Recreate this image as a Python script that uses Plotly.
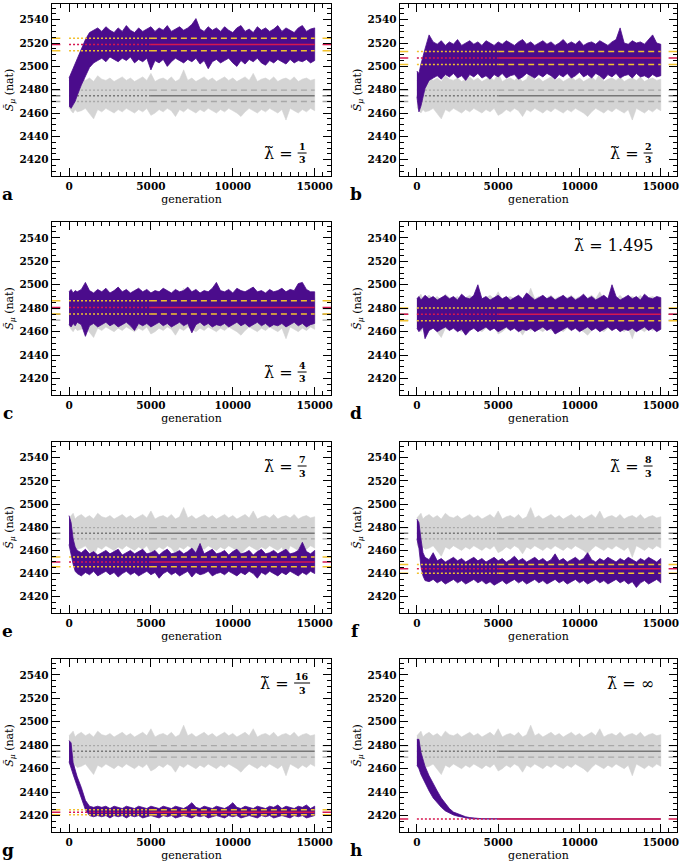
import plotly.graph_objects as go

# ---------------- data ----------------
GEN = [0, 125, 250, 375, 500] + list(range(750, 15001, 250))

X_TICKS = [0, 5000, 10000, 15000]
Y_TICKS = [2420, 2440, 2460, 2480, 2500, 2520, 2540]

PANEL_LETTERS = ["a", "b", "c", "d", "e", "f", "g", "h"]
LAMBDA_LABELS = ["1/3", "2/3", "4/3", "1.495", "7/3", "8/3", "16/3", "∞"]
LABEL_POS = ["bottom", "bottom", "bottom", "top", "top", "top", "top", "top"]

MEAN = [2518.8, 2507.2, 2480.7, 2474.8, 2450.0, 2444.1, 2422.8, 2417.0]
SD = [5.3, 5.5, 5.6, 5.4, 4.2, 3.8, 2.1, 0.0]
GRAY_MEAN = 2474.8
GRAY_SD = 4.9
AVG_START = 5000

A_UP = [2490, 2494, 2498, 2503, 2507, 2515, 2523, 2529, 2531, 2533,
        2530, 2534, 2531, 2529, 2533, 2530, 2535, 2531, 2529, 2533,
        2530, 2532, 2534, 2530, 2533, 2531, 2535, 2530, 2532, 2534,
        2531, 2533, 2536, 2541, 2532, 2530, 2534, 2531, 2533, 2530,
        2534, 2531, 2529, 2533, 2535, 2530, 2532, 2529, 2534, 2531,
        2533, 2530, 2532, 2535, 2530, 2533, 2531, 2529, 2533, 2535,
        2530, 2532, 2533]
A_LO = [2466, 2464, 2467, 2470, 2475, 2484, 2492, 2499, 2503, 2505,
        2507, 2504, 2508, 2506, 2504, 2507, 2505, 2508, 2503, 2506,
        2504, 2507, 2497, 2505, 2503, 2506, 2500, 2504, 2507, 2505,
        2503, 2506, 2504, 2507, 2502, 2505, 2498, 2504, 2506, 2503,
        2505, 2507, 2503, 2500, 2505, 2502, 2506, 2504, 2507, 2503,
        2501, 2505, 2503, 2506, 2504, 2502, 2506, 2503, 2505, 2504,
        2506, 2503, 2505]

B_UP = [2496, 2494, 2502, 2509, 2515, 2527, 2521, 2519, 2522, 2518,
        2521, 2519, 2523, 2518, 2520, 2522, 2519, 2521, 2518, 2522,
        2520, 2518, 2521, 2519, 2522, 2520, 2518, 2521, 2523, 2519,
        2521, 2518, 2520, 2522, 2519, 2521, 2518, 2520, 2523, 2519,
        2521, 2519, 2522, 2518, 2520, 2521, 2519, 2522, 2520, 2518,
        2521, 2523, 2533, 2520, 2519, 2522, 2520, 2521, 2519, 2523,
        2527, 2520, 2519]
B_LO = [2474, 2461, 2466, 2473, 2481, 2488, 2490, 2492, 2489, 2493,
        2491, 2494, 2490, 2492, 2488, 2493, 2491, 2494, 2490, 2492,
        2489, 2493, 2491, 2494, 2490, 2492, 2493, 2489, 2491, 2494,
        2492, 2490, 2493, 2491, 2494, 2492, 2489, 2493, 2491, 2494,
        2490, 2492, 2495, 2491, 2493, 2490, 2494, 2492, 2489, 2493,
        2491, 2494, 2490, 2492, 2493, 2490, 2494, 2491, 2492, 2490,
        2493, 2491, 2492]

C_UP = [2494, 2496, 2493, 2495, 2494, 2496, 2502, 2495, 2493, 2496,
        2494, 2497, 2493, 2495, 2498, 2494, 2496, 2493, 2495, 2497,
        2494, 2496, 2493, 2495, 2494, 2497, 2495, 2493, 2496, 2494,
        2495, 2498, 2494, 2496, 2493, 2495, 2494, 2497, 2502, 2495,
        2494, 2496, 2493, 2497, 2495, 2494, 2496, 2498, 2494, 2495,
        2493, 2496, 2494, 2495, 2497, 2494, 2496, 2495, 2501, 2502,
        2496, 2494, 2494]
C_LO = [2466, 2464, 2467, 2465, 2468, 2466, 2456, 2465, 2467, 2464,
        2466, 2468, 2465, 2467, 2464, 2466, 2468, 2465, 2461, 2467,
        2465, 2467, 2464, 2466, 2468, 2465, 2467, 2464, 2466, 2468,
        2465, 2467, 2459, 2466, 2468, 2465, 2467, 2464, 2466, 2465,
        2467, 2464, 2466, 2468, 2465, 2467, 2464, 2466, 2468, 2465,
        2467, 2464, 2466, 2465, 2467, 2464, 2466, 2468, 2465, 2467,
        2464, 2466, 2467]

D_UP = [2488, 2490, 2487, 2489, 2491, 2488, 2490, 2487, 2489, 2491,
        2488, 2490, 2487, 2492, 2489, 2488, 2491, 2500, 2488, 2490,
        2487, 2489, 2491, 2488, 2490, 2487, 2489, 2491, 2488, 2493,
        2490, 2487, 2489, 2491, 2488, 2490, 2487, 2489, 2491, 2488,
        2490, 2487, 2489, 2492, 2488, 2490, 2487, 2489, 2491, 2488,
        2500, 2490, 2487, 2489, 2491, 2488, 2490, 2487, 2492, 2489,
        2488, 2490, 2489]
D_LO = [2463, 2460, 2462, 2464, 2454, 2461, 2463, 2460, 2462, 2464,
        2461, 2463, 2460, 2462, 2457, 2461, 2463, 2460, 2462, 2464,
        2461, 2463, 2460, 2462, 2464, 2461, 2463, 2460, 2462, 2461,
        2463, 2460, 2462, 2464, 2461, 2463, 2458, 2460, 2462, 2464,
        2461, 2463, 2460, 2462, 2464, 2461, 2463, 2460, 2462, 2464,
        2461, 2463, 2460, 2462, 2461, 2463, 2460, 2462, 2464, 2461,
        2463, 2460, 2462]

E_UP = [2490, 2484, 2470, 2463, 2460, 2458, 2461, 2457, 2459, 2456,
        2458, 2460, 2457, 2459, 2461, 2456, 2458, 2460, 2457, 2459,
        2461, 2457, 2458, 2460, 2456, 2459, 2461, 2457, 2458, 2460,
        2457, 2459, 2462, 2458, 2466, 2457, 2459, 2461, 2457, 2458,
        2460, 2456, 2459, 2461, 2457, 2458, 2460, 2456, 2459, 2461,
        2457, 2458, 2460, 2457, 2459, 2461, 2457, 2458, 2460, 2467,
        2459, 2457, 2460]
E_LO = [2465, 2458, 2448, 2442, 2440, 2438, 2441, 2439, 2442, 2438,
        2440, 2442, 2439, 2441, 2437, 2440, 2442, 2439, 2441, 2438,
        2440, 2442, 2439, 2441, 2436, 2440, 2442, 2439, 2441, 2438,
        2440, 2442, 2437, 2441, 2439, 2440, 2442, 2438, 2440, 2441,
        2439, 2442, 2440, 2438, 2441, 2439, 2442, 2440, 2436, 2441,
        2439, 2442, 2440, 2438, 2441, 2439, 2442, 2440, 2438, 2441,
        2439, 2442, 2440]

F_UP = [2487, 2484, 2470, 2458, 2454, 2452, 2458, 2451, 2453, 2450,
        2452, 2454, 2451, 2453, 2450, 2452, 2454, 2451, 2453, 2450,
        2452, 2454, 2451, 2453, 2450, 2452, 2455, 2451, 2453, 2450,
        2452, 2454, 2451, 2453, 2450, 2452, 2457, 2451, 2453, 2450,
        2452, 2454, 2451, 2453, 2458, 2452, 2450, 2453, 2451, 2454,
        2452, 2450, 2453, 2451, 2454, 2452, 2450, 2453, 2451, 2454,
        2452, 2450, 2453]
F_LO = [2470, 2462, 2446, 2438, 2434, 2433, 2435, 2432, 2434, 2431,
        2433, 2435, 2432, 2434, 2431, 2433, 2435, 2432, 2434, 2431,
        2433, 2430, 2432, 2434, 2431, 2433, 2435, 2432, 2434, 2431,
        2433, 2435, 2432, 2434, 2431, 2433, 2435, 2432, 2434, 2431,
        2433, 2435, 2432, 2434, 2431, 2433, 2435, 2432, 2434, 2431,
        2433, 2435, 2432, 2434, 2431, 2433, 2428, 2432, 2434, 2431,
        2433, 2435, 2432]

G_UP = [2484, 2482, 2465, 2459, 2453, 2444, 2433, 2428, 2427, 2428,
        2427, 2428, 2426, 2428, 2427, 2426, 2428, 2427, 2426, 2428,
        2427, 2426, 2428, 2427, 2426, 2428, 2427, 2426, 2428, 2427,
        2426, 2428, 2431, 2427, 2426, 2428, 2427, 2426, 2428, 2427,
        2426, 2428, 2431, 2427, 2426, 2428, 2427, 2426, 2428, 2427,
        2426, 2428, 2427, 2429, 2426, 2428, 2427, 2426, 2428, 2427,
        2429, 2426, 2428]
G_LO = [2466, 2460, 2455, 2450, 2444, 2435, 2425, 2420, 2419, 2420,
        2419, 2420, 2418, 2420, 2419, 2420, 2418, 2420, 2419, 2420,
        2418, 2419, 2420, 2419, 2418, 2420, 2419, 2420, 2418, 2419,
        2420, 2419, 2418, 2420, 2419, 2420, 2418, 2419, 2420, 2419,
        2418, 2420, 2419, 2420, 2418, 2419, 2420, 2419, 2418, 2420,
        2419, 2420, 2418, 2419, 2420, 2419, 2418, 2420, 2419, 2420,
        2418, 2419, 2420]

H_UP = [2485, 2485, 2474, 2468, 2462, 2454, 2447, 2441, 2435, 2430,
        2426, 2423, 2421.5, 2420, 2419, 2418.3, 2417.8, 2417.5, 2417.3, 2417.2,
        2417.2, 2417.1, 2417.1, 2417.1, 2417.1, 2417.1, 2417.1, 2417.1, 2417.1, 2417.1,
        2417.1, 2417.1, 2417.1, 2417.1, 2417.1, 2417.1, 2417.1, 2417.1, 2417.1, 2417.1,
        2417.1, 2417.1, 2417.1, 2417.1, 2417.1, 2417.1, 2417.1, 2417.1, 2417.1, 2417.1,
        2417.1, 2417.1, 2417.1, 2417.1, 2417.1, 2417.1, 2417.1, 2417.1, 2417.1, 2417.1,
        2417.1, 2417.1, 2417.1]
H_LO = [2463, 2460, 2455, 2452, 2448, 2441, 2435, 2431, 2427, 2424,
        2422, 2420.5, 2419.5, 2418.5, 2418, 2417.5, 2417.2, 2417.0, 2416.9, 2416.8,
        2416.8, 2416.8, 2416.8, 2416.8, 2416.8, 2416.8, 2416.8, 2416.8, 2416.8, 2416.8,
        2416.8, 2416.8, 2416.8, 2416.8, 2416.8, 2416.8, 2416.8, 2416.8, 2416.8, 2416.8,
        2416.8, 2416.8, 2416.8, 2416.8, 2416.8, 2416.8, 2416.8, 2416.8, 2416.8, 2416.8,
        2416.8, 2416.8, 2416.8, 2416.8, 2416.8, 2416.8, 2416.8, 2416.8, 2416.8, 2416.8,
        2416.8, 2416.8, 2416.8]

GRAY_UP = [2488, 2490, 2492, 2487, 2489, 2491, 2488, 2490, 2487, 2492,
           2489, 2488, 2490, 2487, 2489, 2491, 2488, 2490, 2487, 2489,
           2491, 2488, 2494, 2487, 2489, 2490, 2488, 2491, 2487, 2489,
           2497, 2488, 2490, 2487, 2489, 2491, 2488, 2490, 2487, 2489,
           2491, 2488, 2490, 2487, 2489, 2491, 2488, 2494, 2487, 2489,
           2490, 2488, 2491, 2487, 2489, 2490, 2488, 2491, 2487, 2489,
           2490, 2488, 2489]
GRAY_LO = [2465, 2462, 2460, 2463, 2461, 2462, 2464, 2460, 2455, 2463,
           2461, 2464, 2462, 2460, 2463, 2461, 2464, 2462, 2460, 2463,
           2461, 2464, 2458, 2460, 2463, 2461, 2464, 2462, 2457, 2463,
           2461, 2464, 2462, 2460, 2463, 2461, 2464, 2462, 2460, 2463,
           2461, 2464, 2462, 2460, 2457, 2461, 2464, 2462, 2460, 2463,
           2461, 2464, 2462, 2460, 2463, 2454, 2464, 2462, 2460, 2463,
           2461, 2464, 2462]

PURPLE_UP = [A_UP, B_UP, C_UP, D_UP, E_UP, F_UP, G_UP, H_UP]
PURPLE_LO = [A_LO, B_LO, C_LO, D_LO, E_LO, F_LO, G_LO, H_LO]

# ---------------- styling / layout ----------------
W, H = 685, 863
COLS = [(52, 332), (401, 679)]
ROWS = [(4, 176), (222, 395), (442, 613), (659, 832)]
XR = [-1050, 16000]
YR = [2406, 2553.5]

PURPLE = "#4b0c8c"
RED = "#d6174f"
YELLOW = "#f2c12e"
GBAND = "#d4d4d4"
GMEAN = "#777777"
GSD = "#a8a8a8"
SERIF = "DejaVu Serif"

MARK = (XR[1] - XR[0]) * 8.5 / 280.0

fig = go.Figure()
layout = dict(width=W, height=H, margin=dict(l=0, r=0, t=0, b=0),
              paper_bgcolor="white", plot_bgcolor="white", showlegend=False)
annotations = []
shapes = []


def px_x(px):
    return px / W


def px_y(py):
    return 1 - py / H


def add_level(xa, ya, y, color, width, late_dash):
    fig.add_trace(go.Scatter(x=[GEN[0], AVG_START], y=[y, y], xaxis=xa, yaxis=ya,
                             mode="lines", hoverinfo="skip",
                             line=dict(color=color, width=width, dash="2px,2px")))
    fig.add_trace(go.Scatter(x=[AVG_START, GEN[-1]], y=[y, y], xaxis=xa, yaxis=ya,
                             mode="lines", hoverinfo="skip",
                             line=dict(color=color, width=width, dash=late_dash)))
    fig.add_trace(go.Scatter(x=[XR[0], XR[0] + MARK, None, XR[1] - MARK, XR[1]],
                             y=[y, y, None, y, y], xaxis=xa, yaxis=ya,
                             mode="lines", hoverinfo="skip",
                             line=dict(color=color, width=width)))


for i in range(8):
    r, c = divmod(i, 2)
    sfx = "" if i == 0 else str(i + 1)
    xa, ya = "x" + sfx, "y" + sfx
    x0, x1 = COLS[c]
    y0, y1 = ROWS[r]

    common = dict(showline=True, linecolor="black", linewidth=1.2, mirror="allticks",
                  ticks="inside", tickcolor="black", ticklen=8, tickwidth=1,
                  showgrid=False, zeroline=False,
                  tickfont=dict(family=SERIF, size=10.5, color="black"))
    layout["xaxis" + sfx] = dict(
        common, domain=[px_x(x0), px_x(x1)], anchor=ya, range=XR,
        tickmode="array", tickvals=X_TICKS,
        ticktext=["<b>%d</b>" % v for v in X_TICKS],
        minor=dict(ticks="inside", ticklen=4, dtick=500, tick0=0, tickcolor="black"),
        title=dict(text="generation", standoff=4,
                   font=dict(family=SERIF, size=11, color="black")))
    layout["yaxis" + sfx] = dict(
        common, domain=[px_y(y1), px_y(y0)], anchor=xa, range=YR,
        tickmode="array", tickvals=Y_TICKS,
        ticktext=["<b>%d</b>" % v for v in Y_TICKS],
        minor=dict(ticks="inside", ticklen=4, dtick=5, tick0=2420, tickcolor="black"),
        title=dict(text="<i>S\u0303</i><sub><i>\u03bc</i></sub> (nat)", standoff=3,
                   font=dict(family=SERIF, size=11, color="black")))

    # gray reference band
    fig.add_trace(go.Scatter(x=GEN + GEN[::-1], y=GRAY_UP + GRAY_LO[::-1],
                             xaxis=xa, yaxis=ya, mode="lines", fill="toself",
                             fillcolor=GBAND, line=dict(color=GBAND, width=0.6),
                             hoverinfo="skip"))
    add_level(xa, ya, GRAY_MEAN + GRAY_SD, GSD, 1.3, "6px,4px")
    add_level(xa, ya, GRAY_MEAN - GRAY_SD, GSD, 1.3, "6px,4px")
    add_level(xa, ya, GRAY_MEAN, GMEAN, 1.5, "solid")

    # purple series band
    up, lo = PURPLE_UP[i], PURPLE_LO[i]
    fig.add_trace(go.Scatter(x=GEN + GEN[::-1], y=up + lo[::-1],
                             xaxis=xa, yaxis=ya, mode="lines", fill="toself",
                             fillcolor=PURPLE, line=dict(color=PURPLE, width=0.8),
                             hoverinfo="skip"))
    if SD[i] > 0:
        add_level(xa, ya, MEAN[i] + SD[i], YELLOW, 1.5, "6px,4px")
        add_level(xa, ya, MEAN[i] - SD[i], YELLOW, 1.5, "6px,4px")
    add_level(xa, ya, MEAN[i], RED, 1.5, "solid")

    # panel letter
    annotations.append(dict(text="<b>%s</b>" % PANEL_LETTERS[i], xref="paper", yref="paper",
                            x=px_x(x0 - 44), y=px_y(y1 + 18), xanchor="center",
                            yanchor="middle", showarrow=False,
                            font=dict(family=SERIF, size=17, color="black")))

    # lambda label
    lab = LAMBDA_LABELS[i]
    yc = (y1 - 23) if LABEL_POS[i] == "bottom" else (y0 + 24)
    if "/" in lab:
        num, den = lab.split("/")
        xc = x1 - 29
        hw = 3.5 * max(len(num), len(den)) + 1
        annotations.append(dict(text="\u03bb\u0303 =", xref="paper", yref="paper",
                                x=px_x(xc - hw - 3), y=px_y(yc), xanchor="right",
                                yanchor="middle", showarrow=False,
                                font=dict(family=SERIF, size=16, color="black")))
        annotations.append(dict(text="<b>%s</b>" % num, xref="paper", yref="paper",
                                x=px_x(xc), y=px_y(yc - 0.5), xanchor="center",
                                yanchor="bottom", showarrow=False, borderpad=0,
                                font=dict(family=SERIF, size=9.5, color="black")))
        annotations.append(dict(text="<b>%s</b>" % den, xref="paper", yref="paper",
                                x=px_x(xc), y=px_y(yc + 0.5), xanchor="center",
                                yanchor="top", showarrow=False, borderpad=0,
                                font=dict(family=SERIF, size=9.5, color="black")))
        shapes.append(dict(type="line", xref="paper", yref="paper",
                           x0=px_x(xc - hw), x1=px_x(xc + hw), y0=px_y(yc), y1=px_y(yc),
                           line=dict(color="black", width=1)))
    else:
        annotations.append(dict(text="\u03bb\u0303 = %s" % lab, xref="paper", yref="paper",
                                x=px_x(x1 - 21), y=px_y(yc), xanchor="right",
                                yanchor="middle", showarrow=False,
                                font=dict(family=SERIF, size=16, color="black")))

layout["annotations"] = annotations
layout["shapes"] = shapes
fig.update_layout(**layout)
fig.write_html("out.html", config={"displayModeBar": False},
               post_script="document.body.style.margin='0px';"
                           "document.body.style.overflow='hidden';")
